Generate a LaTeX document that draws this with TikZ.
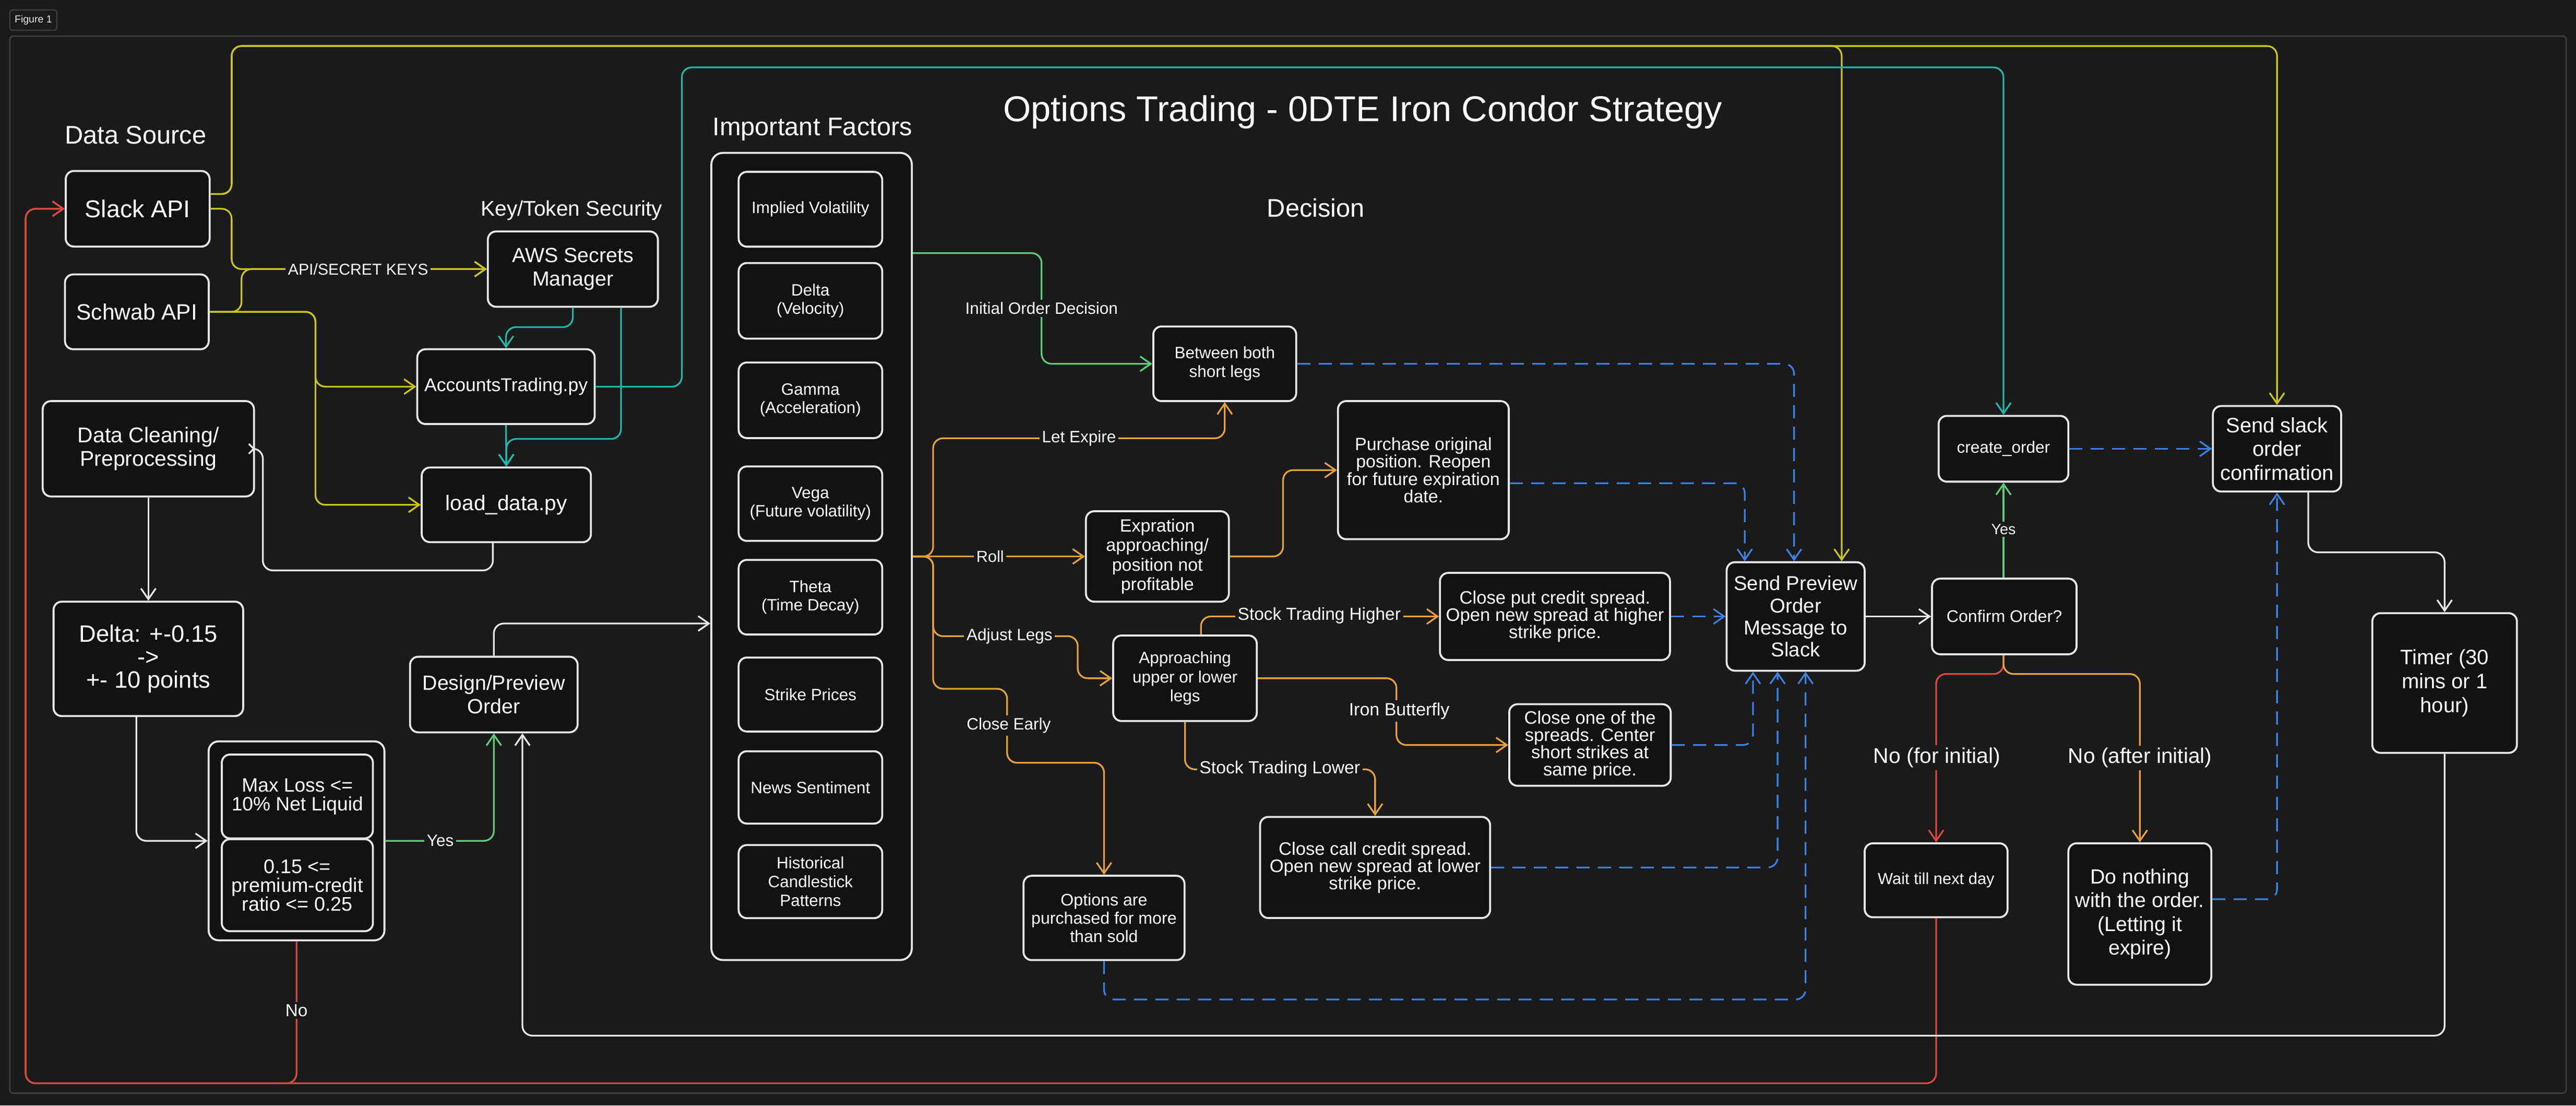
\documentclass[tikz,border=0pt]{standalone}
\usepackage{fontspec}
\setmainfont{Liberation Sans}
\usetikzlibrary{arrows.meta}
\definecolor{bg}{HTML}{1A1A1A}
\definecolor{boxbg}{HTML}{121212}
\definecolor{fg}{HTML}{E6E6E6}
\definecolor{cframe}{HTML}{3C3C3C}
\definecolor{cyel}{HTML}{C6C41E}
\definecolor{cteal}{HTML}{22B5A8}
\definecolor{cgreen}{HTML}{5CCB78}
\definecolor{corange}{HTML}{E3A13B}
\definecolor{cblue}{HTML}{3C7FE0}
\definecolor{cred}{HTML}{D8493F}
\begin{document}
\begin{tikzpicture}[x=1pt,y=-1pt,
  box/.style={draw=fg, line width=1.2pt, rounded corners=5pt, fill=boxbg, text=white, align=center, inner sep=0pt},
  wh/.style 2 args={minimum width=#1, minimum height=#2},
  fs/.style 2 args={font=\fontsize{#1}{#2}\selectfont},
  lab/.style={fill=bg, text=white, inner sep=1.5pt, align=center},
  conn/.style={line width=1.05pt, rounded corners=6pt, -{Straight Barb[length=6.5pt,width=9pt]}},
  dsh/.style={dash pattern=on 8pt off 5pt},
  hd/.style={text=white, inner sep=0pt, anchor=base},
]
\fill[bg] (0,0) rectangle (1568,672.5);
\useasboundingbox (0,0) rectangle (1568,672.5);
\draw[draw=cframe, line width=0.9pt, rounded corners=2pt] (6,22) rectangle (1562,665);
\node[draw=cframe, line width=0.8pt, rounded corners=1.5pt, wh={28.6}{12.3}, inner sep=0pt, text=fg, fs={6.2}{7}] (fig) at (20.3,12.2) {Figure 1};

% headings
\node[hd, fs={21.8}{24}] (title) at (829.5,73.9) {Options Trading - 0DTE Iron Condor Strategy};
\node[hd, fs={15.5}{18}] (dsrc) at (82.5,87.6) {Data Source};
\node[hd, fs={15.5}{18}] (impf) at (494.5,82.5) {Important Factors};
\node[hd, fs={15.5}{18}] (dec) at (801,132) {Decision};
\node[hd, fs={12.9}{15}] (keysec) at (348,131.5) {Key/Token Security};

% left column
\node[box, wh={87.6}{46}, fs={14.8}{17}] (slack) at (83.8,127) {Slack API};
\node[box, wh={87.5}{45.5}, fs={13.5}{16}] (schwab) at (83.3,189.7) {Schwab API};
\node[box, wh={103.5}{45.8}, fs={12.5}{14.5}] (aws) at (348.7,163.7) {AWS Secrets\\Manager};
\node[box, wh={108}{45.5}, fs={11.3}{13}] (acct) at (308,235.2) {AccountsTrading.py};
\node[box, wh={103}{45.4}, fs={12.9}{15}] (load) at (308.2,307.1) {load\_data.py};
\node[box, wh={128.6}{58}, fs={13}{14.5}] (clean) at (90.3,273) {Data Cleaning/\\Preprocessing};
\node[box, wh={115.4}{69.6}, fs={14.4}{14}] (delta) at (90.3,400.8) {Delta: +-0.15\\->\\+- 10 points};
\node[box, wh={107}{121}, rounded corners=6pt] (crit) at (180.5,511.5) {};
\node[box, wh={92}{51}, fs={11.8}{11.5}] (maxloss) at (181,484.5) {Max Loss <=\\10\% Net Liquid};
\node[box, wh={92}{56}, fs={12}{11.5}] (ratio) at (181,538.5) {0.15 <=\\premium-credit\\ratio <= 0.25};
\node[box, wh={102}{46}, fs={12.5}{14.5}] (design) at (300.6,422.5) {Design/Preview\\Order};

% factors
\node[box, wh={122}{491}, rounded corners=7pt] (factors) at (494,338.5) {};
\node[box, wh={87.4}{45.5}, fs={10}{11.2}] (implied) at (493.3,127.3) {Implied Volatility};
\node[box, wh={87.4}{46}, fs={10}{11.2}] (deltaf) at (493.3,183) {Delta\\(Velocity)};
\node[box, wh={87.4}{46}, fs={10}{11.2}] (gamma) at (493.3,243.5) {Gamma\\(Acceleration)};
\node[box, wh={87.4}{45.3}, fs={10}{11.2}] (vega) at (493.3,306.4) {Vega\\(Future volatility)};
\node[box, wh={87.4}{45.4}, fs={10}{11.2}] (theta) at (493.3,363.3) {Theta\\(Time Decay)};
\node[box, wh={87.4}{45}, fs={10}{11.2}] (strike) at (493.3,422.5) {Strike Prices};
\node[box, wh={87.4}{44}, fs={10}{11.2}] (news) at (493.3,479) {News Sentiment};
\node[box, wh={87.4}{44.5}, fs={10}{11.4}] (hist) at (493.3,536.3) {Historical\\Candlestick\\Patterns};

% decision
\node[box, wh={87}{45.4}, fs={10}{11.4}] (between) at (745.5,221.3) {Between both\\short legs};
\node[box, wh={104}{84}, fs={10.8}{10.5}] (purchase) at (866.4,286) {Purchase original\\position. Reopen\\for future expiration\\date.};
\node[box, wh={87}{55}, fs={10.8}{11.9}] (expir) at (704.5,338.5) {Expration\\approaching/\\position not\\profitable};
\node[box, wh={87.4}{52}, fs={10}{11.5}] (approach) at (721.3,412.6) {Approaching\\upper or lower\\legs};
\node[box, wh={140}{53}, fs={11}{10.5}] (closeput) at (946.5,375) {Close put credit spread.\\Open new spread at higher\\strike price.};
\node[box, wh={98.3}{49.6}, fs={11}{10.5}] (closeone) at (967.8,453.2) {Close one of the\\spreads. Center\\short strikes at\\same price.};
\node[box, wh={140}{61.5}, fs={11}{10.5}] (closecall) at (837,527.7) {Close call credit spread.\\Open new spread at lower\\strike price.};
\node[box, wh={98}{51.3}, fs={10.2}{11.2}] (options) at (672,558.4) {Options are\\purchased for more\\than sold};

% right part
\node[box, wh={84}{66}, fs={12.2}{13.4}] (sendprev) at (1093,375) {Send Preview\\Order\\Message to\\Slack};
\node[box, wh={88}{46}, fs={10.2}{12}] (confirm) at (1220,375) {Confirm Order?};
\node[box, wh={79}{40}, fs={10}{12}] (create) at (1219.5,273) {create\_order};
\node[box, wh={78}{52}, fs={12.7}{14.5}] (sendslack) at (1386,273) {Send slack\\order\\confirmation};
\node[box, wh={88}{85}, fs={12.7}{14.6}] (timer) at (1488,415.5) {Timer (30\\mins or 1\\hour)};
\node[box, wh={87}{45}, fs={9.8}{11}] (wait) at (1178.5,535.5) {Wait till next day};
\node[box, wh={87}{86}, fs={12.5}{14.4}] (donothing) at (1302.5,556) {Do nothing\\with the order.\\(Letting it\\expire)};

% yellow
\draw[conn, cyel] (slack.east |- 0,118) -- (141,118) -- (141,28) -- (1121,28) -- (1121,0 |- sendprev.north);
\draw[conn, cyel] (slack.east |- 0,118) -- (141,118) -- (141,28) -- (1386,28) -- (sendslack.north);
\draw[conn, cyel] (slack.east) -- (141,127) -- (141,163.7) -- (aws.west);
\draw[conn, cyel] (schwab.east) -- (147,189.7) -- (147,163.7) -- (aws.west);
\draw[conn, cyel] (schwab.east) -- (192,189.7) -- (192,235.2) -- (acct.west);
\draw[conn, cyel] (schwab.east) -- (192,189.7) -- (192,307.1) -- (load.west);

% teal
\draw[conn, cteal] (aws.south) -- (348.7,199) -- (308,199) -- (acct.north);
\draw[conn, cteal] (aws.south -| 378,0) -- (378,267) -- (308.2,267) -- (load.north);
\draw[conn, cteal] (acct.south) -- (load.north);
\draw[conn, cteal] (acct.east) -- (415,235.2) -- (415,41) -- (1219.5,41) -- (create.north);

% white / left
\draw[line width=1.05pt, fg, rounded corners=6pt, -{Straight Barb[length=3pt,width=6pt]}] (load.south -| 300,0) -- (300,347) -- (160,347) -- (160,273) [sharp corners] -- (clean.east);
\draw[conn, fg] (clean.south) -- (delta.north);
\draw[conn, fg] (delta.south -| 83,0) -- (83,511.5) -- (crit.west);
\draw[conn, cgreen] (crit.east) -- (300.6,511.5) -- (design.south);
\draw[conn, cred] (crit.south) -- (180.5,659) -- (15.6,659) -- (15.6,127) -- (slack.west);
\draw[conn, cred] (wait.south) -- (1178.5,659) -- (15.6,659) -- (15.6,127) -- (slack.west);
\draw[conn, fg] (design.north) -- (300.6,379.3) -- (factors.west |- 0,379.3);
\draw[conn, fg] (timer.south) -- (1488,630) -- (318,630) -- (design.south -| 318,0);
\draw[conn, fg] (sendslack.south -| 1405,0) -- (1405,336) -- (1488,336) -- (timer.north);

% green
\draw[conn, cgreen] (factors.east |- 0,154) -- (634,154) -- (634,221.3) -- (between.west);

% orange
\draw[conn, corange] (factors.east |- 0,338.5) -- (568,338.5) -- (568,266.6) -- (745.5,266.6) -- (between.south);
\draw[conn, corange] (factors.east |- 0,338.5) -- (expir.west);
\draw[conn, corange] (factors.east |- 0,338.5) -- (568,338.5) -- (568,387) -- (656,387) -- (656,412.6) -- (approach.west);
\draw[conn, corange] (factors.east |- 0,338.5) -- (568,338.5) -- (568,419) -- (613,419) -- (613,464) -- (672,464) -- (options.north);
\draw[conn, corange] (expir.east) -- (781,338.5) -- (781,286) -- (purchase.west);
\draw[conn, corange] (approach.north -| 731,0) -- (731,375) -- (closeput.west);
\draw[conn, corange] (approach.east) -- (850,412.6) -- (850,453.2) -- (closeone.west);
\draw[conn, corange] (approach.south) -- (721.3,468) -- (837,468) -- (closecall.north);

% blue dashed
\draw[conn, dsh, cblue] (between.east) -- (1092,221.3) -- (sendprev.north -| 1092,0);
\draw[conn, dsh, cblue] (purchase.east |- 0,294) -- (1062,294) -- (sendprev.north -| 1062,0);
\draw[conn, dsh, cblue] (closeput.east) -- (sendprev.west);
\draw[conn, dsh, cblue] (closeone.east) -- (1067,453.2) -- (sendprev.south -| 1067,0);
\draw[conn, dsh, cblue] (closecall.east) -- (1082,527.7) -- (sendprev.south -| 1082,0);
\draw[conn, dsh, cblue] (options.south) -- (672,608) -- (1099,608) -- (sendprev.south -| 1099,0);
\draw[conn, dsh, cblue] (create.east) -- (sendslack.west);
\draw[conn, dsh, cblue] (donothing.east |- 0,547) -- (1386,547) -- (sendslack.south);

% right flow
\draw[conn, fg] (sendprev.east) -- (confirm.west);
\draw[conn, cgreen] (confirm.north -| 1219.5,0) -- (create.south);
\draw[conn, cred] (confirm.south -| 1219.5,0) -- (1219.5,410) -- (1178.5,410) -- (wait.north);
\draw[conn, corange] (confirm.south -| 1219.5,0) -- (1219.5,410) -- (1302.5,410) -- (donothing.north);

% labels
\node[lab, fs={9.6}{11}] (lkeys) at (218,163.7) {API/SECRET KEYS};
\node[lab, fs={10}{11}] (lyes1) at (268,511.5) {Yes};
\node[lab, fs={10.6}{12}] (lno1) at (180.5,614.7) {No};
\node[lab, fs={10}{11}] (linit) at (634,187.5) {Initial Order Decision};
\node[lab, fs={10}{11}] (llet) at (656.8,266.6) {Let Expire};
\node[lab, fs={9.7}{11}] (lroll) at (602.7,338.5) {Roll};
\node[lab, fs={10}{11}] (ladj) at (614.5,387) {Adjust Legs};
\node[lab, fs={10}{11}] (lclose) at (614,441.5) {Close Early};
\node[lab, fs={10.6}{12}] (lhigh) at (803,374.6) {Stock Trading Higher};
\node[lab, fs={10.8}{12}] (lbutt) at (851.7,432.5) {Iron Butterfly};
\node[lab, fs={10.7}{12}] (llow) at (779,468) {Stock Trading Lower};
\node[lab, fs={9.1}{10}] (lyes2) at (1219.5,322) {Yes};
\node[lab, fs={13}{14}] (lnofor) at (1179,461) {No (for initial)};
\node[lab, fs={12.9}{14}] (lnoafter) at (1302.6,461) {No (after initial)};
\end{tikzpicture}
\end{document}
